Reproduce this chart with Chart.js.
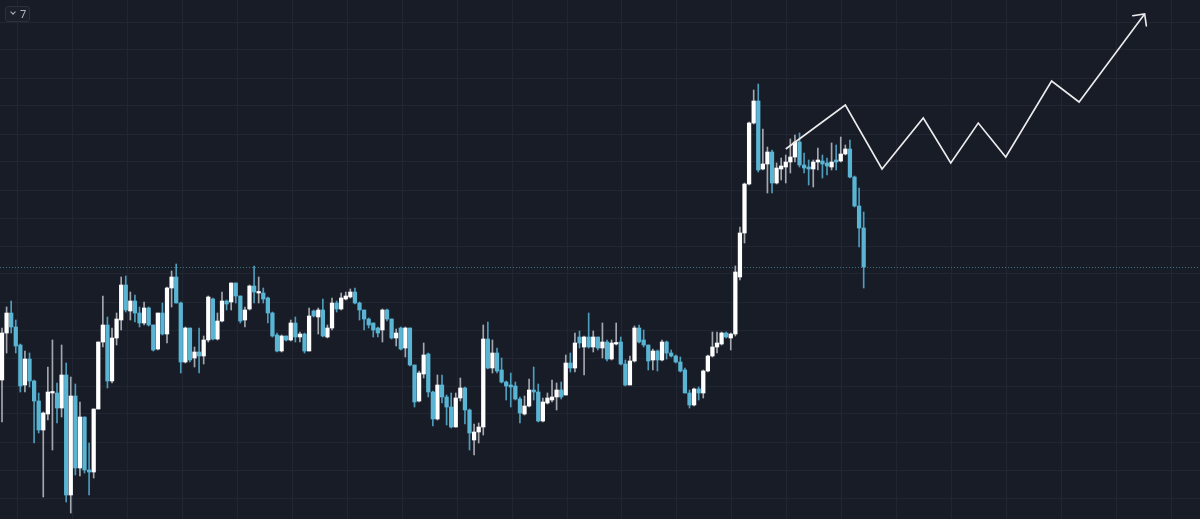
<!DOCTYPE html>
<html>
<head>
<meta charset="utf-8">
<title>Candles</title>
<script src="https://cdn.jsdelivr.net/npm/chart.js@4.4.0/dist/chart.umd.min.js"></script>
<style>
    html, body { margin: 0; padding: 0; background: #181c27; overflow: hidden; }
    #wrap { position: relative; width: 1200px; height: 519px; }
    #chart { display: block; background: #181c27; }
    #badge {
        position: absolute; left: 5px; top: 6px; width: 23px; height: 14px;
        border: 1px solid #2c303c; border-radius: 3px; background: #1c202b;
        color: #b2b5be; font: 11px "Noto Sans", sans-serif; line-height: 14px;
        box-sizing: content-box;
    }
    #badge .chev {
        position: absolute; left: 5px; top: 3px; width: 3px; height: 3px;
        border-right: 1px solid #b2b5be; border-bottom: 1px solid #b2b5be;
        transform: rotate(45deg);
    }
    #badge .num { position: absolute; left: 14px; top: 0; }
</style>
</head>
<body>
<div id="wrap">
    <canvas id="chart" width="1200" height="519"></canvas>
    <div id="badge"><span class="chev"></span><span class="num">7</span></div>
</div>
<script>
// ==================== Data (price in ticks) ====================
const opens = [
    139,186,206,192,174,134,160,138,118,89, 105,126,126,111,144,24,123,51,102,49,
    47,110,177,194,138,181,199,234,208,218, 206,196,211,194,170,206,185,231,242,216,
    157,191,161,167,163,179,220,180,198,218, 217,236,223,199,210,233,226,226,221,206,
    184,168,183,179,196,182,185,168,208,202, 209,182,191,216,210,220,222,227,216,209,
    200,196,191,189,209,200,181,191,171,191, 154,118,145,165,127,100,134,122,112,92,
    121,131,109,79,87,92,180,151,166,149, 137,134,133,120,105,113,129,127,98,116,
    119,122,129,124,156,151,182,172,182,172, 182,171,177,160,175,177,155,134,158,191,
    179,174,159,168,159,177,166,163,157,149, 126,114,130,126,148,163,172,175,186,181,
    185,242,286,335,396,418,350,355,367,336, 350,352,357,362,377,354,352,350,357,358,
    356,352,359,358,365,370,342,313,291
];
const highs = [
    191,212,218,199,175,168,166,139,126,107, 152,179,136,174,156,142,135,117,102,76,
    110,177,223,202,191,206,242,243,227,224, 212,217,212,194,206,216,232,248,255,217,
    192,191,172,191,183,223,221,206,227,219, 236,236,223,212,234,253,242,231,222,207,
    186,184,183,199,202,187,186,211,209,211, 220,194,221,218,226,227,230,231,217,209,
    201,196,192,210,210,200,190,192,192,191, 154,148,176,166,128,144,144,124,126,126,
    141,132,110,95,96,194,197,179,171,161, 138,146,137,122,123,140,152,135,121,126,
    139,136,137,164,166,186,188,183,206,188, 182,196,179,179,196,182,159,163,193,194,
    189,174,170,169,179,178,169,164,162,151, 129,131,132,149,164,187,187,187,187,186,
    253,292,336,397,429,435,390,372,369,356, 361,364,380,384,386,366,359,359,371,364,
    361,376,374,382,374,379,343,331,307
];
const lows = [
    97,166,186,166,127,127,132,76,86,22, 99,69,96,102,17,6,44,43,46,24,
    41,110,172,131,136,174,189,207,199,197, 192,194,193,168,169,184,176,212,216,146,
    156,157,152,146,155,177,179,179,197,209, 209,216,196,192,209,216,216,216,196,182,
    167,167,178,178,177,177,166,168,202,185, 182,181,189,207,209,219,221,215,199,189,
    191,182,182,177,198,180,173,169,162,153, 112,117,141,122,93,99,116,94,91,92,
    118,95,69,64,76,84,150,146,146,136, 119,112,119,96,104,112,119,97,97,115,
    117,109,120,124,147,147,171,144,171,167, 169,161,158,159,174,154,133,134,157,176,
    172,149,149,148,158,160,162,156,147,126, 111,113,119,121,147,162,166,174,181,169,
    183,239,276,334,395,347,349,326,326,335, 339,336,346,357,352,346,334,332,349,341,
    344,349,349,357,364,341,312,272,231
];
const closes = [
    186,206,192,173,133,160,138,118,89,106, 127,127,111,144,24,123,51,102,49,47,
    110,177,194,138,181,200,234,209,218,206, 196,211,194,169,206,185,231,242,216,157,
    191,159,167,163,179,222,180,198,218,215, 236,223,198,209,233,227,227,220,206,183,
    168,183,179,196,182,185,168,203,203,209, 183,191,216,210,221,223,227,216,209,200,
    194,189,186,209,200,181,186,170,191,154, 117,146,164,127,100,134,122,112,92,121,
    131,109,86,87,92,180,151,166,148,137, 133,132,120,106,113,129,127,98,117,121,
    122,129,122,156,151,176,176,182,172,182, 171,177,160,176,176,155,134,158,191,177,
    174,158,168,159,177,166,163,157,148,126, 114,130,126,148,163,172,176,186,182,185,
    247,286,335,396,418,349,355,367,336,351, 353,357,362,377,354,351,350,357,359,355,
    353,357,357,365,370,342,313,291,252
];

// projected path drawn on the chart (bar index, price)
const pathX = [171, 184, 192, 201, 207, 213, 219, 229, 235, 249.3];
const pathY = [370, 414, 350, 401, 356, 396, 362, 438, 417, 505];

// view window and grid steps
const xMin = -0.44, xMax = 261.38;
const yMin = 0, yMax = 519;
const gridX = Array.from({ length: 22 }, (_, k) => 3.27 + 12 * k);
const gridY = Array.from({ length: 18 }, (_, k) => 21 + 28 * k);

// ==================== Colors ====================
const UP = '#ffffff';
const DOWN = '#5ab5d5';
const UP_WICK = '#a4a7ae';
const DOWN_WICK = '#4d9dbb';
const GRID = '#222633';

const isUp = opens.map((o, i) => closes[i] >= o);

// ==================== Plugins ====================
const lastPriceLine = {
    id: 'lastPriceLine',
    beforeDatasetsDraw(chart) {
        const { ctx, chartArea, scales } = chart;
        const y = Math.round(scales.y.getPixelForValue(closes[closes.length - 1])) + 0.5;
        ctx.save();
        ctx.strokeStyle = '#3f7584';
        ctx.lineWidth = 1;
        ctx.setLineDash([1, 2]);
        ctx.beginPath();
        ctx.moveTo(chartArea.left, y);
        ctx.lineTo(chartArea.right, y);
        ctx.stroke();
        ctx.restore();
    }
};

const arrowHead = {
    id: 'arrowHead',
    afterDatasetsDraw(chart) {
        const pts = chart.getDatasetMeta(2).data;
        const a = pts[pts.length - 2], b = pts[pts.length - 1];
        const ang = Math.atan2(a.y - b.y, a.x - b.x);
        const len = 12;
        const ctx = chart.ctx;
        ctx.save();
        ctx.strokeStyle = '#ececee';
        ctx.lineWidth = 1.6;
        ctx.lineCap = 'round';
        ctx.beginPath();
        ctx.moveTo(b.x + len * Math.cos(ang + Math.PI / 4), b.y + len * Math.sin(ang + Math.PI / 4));
        ctx.lineTo(b.x, b.y);
        ctx.lineTo(b.x + len * Math.cos(ang - Math.PI / 4), b.y + len * Math.sin(ang - Math.PI / 4));
        ctx.stroke();
        ctx.restore();
    }
};

// ==================== Chart ====================
const ctx = document.getElementById('chart').getContext('2d');
const chart = new Chart(ctx, {
    type: 'bar',
    data: {
        datasets: [{
            label: 'Wicks',
            data: opens.map((o, i) => ({ x: i, y: [lows[i], highs[i]] })),
            backgroundColor: isUp.map(u => u ? UP_WICK : DOWN_WICK),
            barThickness: 1,
            grouped: false,
            borderWidth: 0,
            order: 3
        }, {
            label: 'Bodies',
            data: opens.map((o, i) => ({ x: i, y: [o, closes[i]] })),
            backgroundColor: isUp.map(u => u ? UP : DOWN),
            barThickness: 3.6,
            minBarLength: 1.5,
            grouped: false,
            borderWidth: 0,
            order: 2
        }, {
            type: 'line',
            label: 'Path',
            data: pathX.map((x, i) => ({ x: x, y: pathY[i] })),
            borderColor: '#ececee',
            borderWidth: 1.6,
            pointRadius: 0,
            tension: 0,
            fill: false,
            order: 1
        }]
    },
    options: {
        responsive: false,
        animation: false,
        devicePixelRatio: 1,
        layout: { padding: 0 },
        plugins: {
            legend: { display: false },
            tooltip: { enabled: false }
        },
        scales: {
            x: {
                type: 'linear',
                min: xMin,
                max: xMax,
                offset: false,
                border: { display: false },
                grid: { color: GRID, offset: false, drawTicks: false },
                ticks: { display: false, autoSkip: false },
                afterBuildTicks: s => { s.ticks = gridX.map(v => ({ value: v })); }
            },
            y: {
                min: yMin,
                max: yMax,
                border: { display: false },
                grid: { color: GRID, drawTicks: false },
                ticks: { display: false },
                afterBuildTicks: s => { s.ticks = gridY.map(v => ({ value: v })); }
            }
        }
    },
    plugins: [lastPriceLine, arrowHead]
});
</script>
</body>
</html>
